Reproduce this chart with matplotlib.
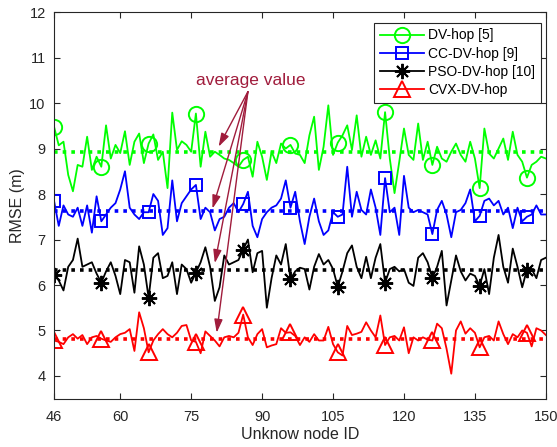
import matplotlib
matplotlib.use("Agg")
import matplotlib.pyplot as plt
import numpy as np

plt.rcParams['font.family'] = ['Liberation Sans', 'DejaVu Sans']

node_id = np.arange(46, 151)

dv_hop = [9.48, 9.07, 9.15, 8.42, 8.06, 8.64, 8.6, 9.26, 8.53, 8.82,
          8.6, 9.51, 8.78, 9.08, 8.9, 9.38, 8.64, 9.15, 9.33, 8.68,
          9.11, 9.31, 8.75, 8.93, 8.13, 9.79, 8.97, 9.16, 9.08, 8.93,
          9.77, 8.6, 9.37, 8.82, 8.93, 8.86, 8.78, 8.75, 8.68, 8.6,
          8.75, 8.82, 8.38, 9.15, 8.82, 8.31, 8.93, 8.68, 9.11, 9.0,
          9.08, 8.89, 8.86, 8.68, 9.29, 9.7, 8.53, 9.04, 9.95, 8.86,
          9.13, 9.29, 9.51, 8.97, 9.73, 8.82, 9.26, 8.86, 9.18, 8.78,
          9.8, 8.78, 8.02, 8.71, 9.44, 8.86, 8.75, 9.55, 8.75, 9.15,
          8.64, 9.04, 8.78, 8.71, 8.93, 9.11, 8.86, 8.71, 9.15, 8.78,
          8.13, 9.44, 8.89, 8.78, 9.0, 9.22, 8.75, 9.37, 8.86, 8.71,
          8.36, 8.64, 8.71, 8.82, 8.78]

cc_dv_hop = [7.85, 7.3, 7.75, 7.55, 7.5, 7.7, 7.3, 7.75, 7.15, 7.95,
             7.4, 7.55, 7.7, 7.8, 8.1, 8.5, 7.7, 7.55, 7.45, 7.6,
             7.6, 8.0, 7.85, 7.1, 7.25, 8.3, 7.4, 7.8, 7.95, 8.1,
             8.2, 7.45, 7.7, 7.6, 7.2, 7.45, 7.5, 7.7, 7.8, 7.6,
             7.78, 8.05, 7.3, 7.05, 7.45, 7.6, 7.7, 7.75, 7.9, 8.3,
             7.7, 8.05, 7.4, 6.9, 7.5, 7.9, 7.4, 7.1, 7.2, 7.6,
             7.5, 7.55, 8.6, 7.5, 8.05, 7.65, 7.55, 8.1, 7.7, 7.1,
             8.35, 7.6, 7.7, 7.1, 8.4, 7.7, 7.6, 7.65, 7.6, 7.55,
             7.12, 7.65, 7.85, 7.55, 7.05, 7.6, 7.65, 7.8, 8.1, 7.4,
             7.52, 7.85, 7.9, 7.75, 7.85, 7.55, 7.7, 7.25, 7.7, 7.4,
             7.5, 7.55, 7.75, 7.55, 7.55]

pso_dv_hop = [6.23, 6.1, 5.88, 6.4, 6.55, 7.02, 6.4, 6.45, 6.5, 6.25,
              6.05, 6.3, 6.5, 6.2, 5.8, 6.55, 6.5, 5.83, 6.85, 6.45,
              5.72, 6.6, 6.7, 6.15, 6.2, 6.5, 5.8, 6.45, 6.35, 6.05,
              6.27, 6.5, 6.83, 6.4, 5.65, 5.95, 6.65, 6.45, 6.5, 6.55,
              6.78, 7.0, 6.28, 6.7, 6.75, 5.5, 6.15, 6.65, 6.45, 6.9,
              6.13, 6.3, 6.38, 6.35, 5.9, 6.4, 6.68, 6.45, 6.55, 6.35,
              5.96, 6.3, 6.7, 6.87, 6.4, 6.15, 6.62, 6.15, 6.6, 6.9,
              6.05, 6.35, 6.4, 6.3, 6.35, 6.05, 5.98, 6.6, 6.7, 6.5,
              6.15, 6.4, 6.75, 5.55, 6.1, 6.65, 6.3, 6.1, 6.25, 6.2,
              5.98, 6.35, 5.8, 6.6, 7.1, 6.4, 6.05, 6.8, 6.4, 5.95,
              6.34, 6.35, 6.15, 6.55, 6.6]

cvx_dv_hop = [4.78, 4.75, 4.7, 4.85, 4.92, 4.82, 4.9, 4.7, 4.85, 4.88,
              4.82, 4.78, 4.75, 4.85, 4.92, 4.95, 5.03, 4.55, 5.4, 5.05,
              4.52, 4.78, 4.92, 5.03, 4.92, 4.85, 4.95, 5.1, 5.12, 4.78,
              4.75, 4.5, 4.98, 4.88, 4.78, 4.65, 4.85, 4.88, 4.85, 4.95,
              5.35, 4.85, 4.68, 4.92, 5.03, 4.63, 4.67, 4.7, 5.05, 4.95,
              4.96, 4.88, 4.68, 4.85, 4.75, 4.92, 4.78, 4.78, 5.08, 4.7,
              4.52, 4.45, 5.1, 4.9, 4.93, 4.97, 5.18, 5.0, 4.85, 5.33,
              4.68, 4.85, 4.88, 4.78, 5.07, 4.5, 4.85, 4.78, 4.85, 4.8,
              4.78, 5.15, 5.05, 4.6, 4.05, 5.0, 5.2, 4.93, 5.05, 4.95,
              4.63, 4.85, 4.88, 4.78, 5.2, 4.92, 4.7, 4.92, 4.85, 5.0,
              4.95, 4.65, 5.05, 5.0, 4.9]

averages = [8.92, 7.62, 6.33, 4.82]
labels = ['DV-hop [5]', 'CC-DV-hop [9]', 'PSO-DV-hop [10]', 'CVX-DV-hop']
colors = ['#00ff00', '#0000ff', '#000000', '#ff0000']
markers = ['o', 's', (8, 2, 0), '^']
msizes = [11, 8.5, 11, 12]
series = [dv_hop, cc_dv_hop, pso_dv_hop, cvx_dv_hop]

fig = plt.figure(figsize=(5.57, 4.47), dpi=100)
ax = fig.add_axes([0.097, 0.108, 0.883, 0.865])

for y, avg, lab, c, m, ms in zip(series, averages, labels, colors, markers, msizes):
    ax.plot(node_id, y, color=c, lw=1.3, marker=m, markevery=10, ms=ms,
            mfc='none', mec=c, mew=1.4, label=lab)
    ax.plot([46, 150], [avg, avg], color=c, lw=2.6, ls=(0, (1, 1.4)))

# annotation
arrow_color = '#a01c3c'
ax.text(87.5, 10.5, 'average value', color=arrow_color, fontsize=12.5,
        ha='center', va='center')
for tx, ty in [(80.8, 9.04), (79.5, 7.68), (80.0, 6.48), (80.4, 4.95)]:
    ax.annotate('', xy=(tx, ty), xytext=(87.0, 10.25),
                arrowprops=dict(arrowstyle='-|>,head_length=0.8,head_width=0.25',
                                color=arrow_color, lw=1.0, shrinkA=0, shrinkB=0))

ax.set_xlim(46, 150)
ax.set_ylim(3.5, 12)
ax.set_xticks([46, 60, 75, 90, 105, 120, 135, 150])
ax.set_yticks(range(4, 13))
ax.tick_params(direction='in', top=True, right=True, labelsize=10.5,
               colors='#262626', length=4)
ax.tick_params(axis='x', pad=8)
ax.tick_params(axis='y', pad=6)
for s in ax.spines.values():
    s.set_color('#262626')
    s.set_linewidth(0.8)
ax.set_xlabel('Unknow node ID', fontsize=11.5, color='#262626', labelpad=2)
ax.set_ylabel('RMSE (m)', fontsize=11.5, color='#262626', labelpad=3)

leg = ax.legend(loc='upper right', bbox_to_anchor=(0.99, 0.972),
                borderaxespad=0, fontsize=10, fancybox=False, framealpha=1,
                edgecolor='#262626', handlelength=3.2, handletextpad=0.3,
                labelspacing=0.3)
leg.get_frame().set_linewidth(0.8)

fig.savefig('out.png', dpi=100)
